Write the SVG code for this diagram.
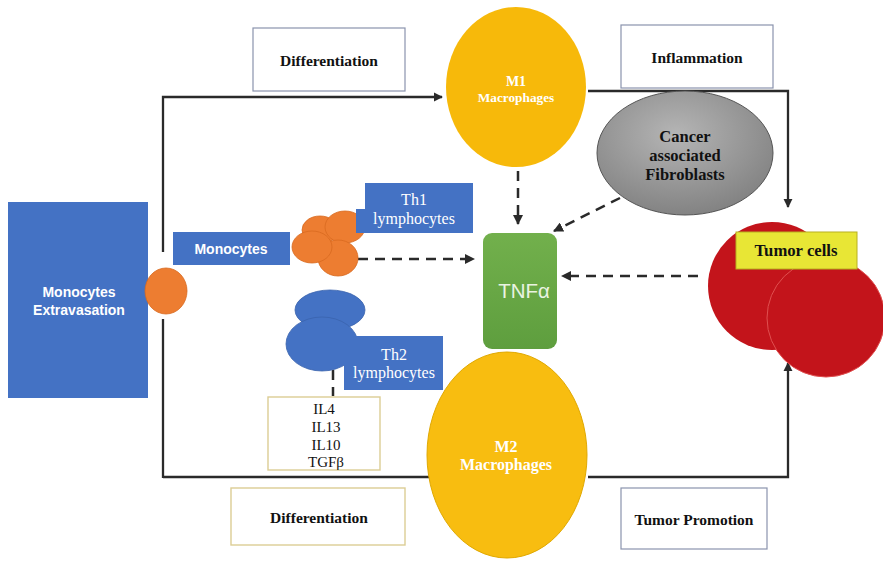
<svg xmlns="http://www.w3.org/2000/svg" width="883" height="562" viewBox="0 0 883 562">
<defs>
<style>
.lbl{font-family:"Liberation Serif",serif;font-weight:bold;font-size:15.5px;fill:#111;text-anchor:middle}
.wserif{font-family:"Liberation Serif",serif;font-size:16px;fill:#fff;text-anchor:middle}
.dserif{font-family:"Liberation Serif",serif;font-size:15px;fill:#111;text-anchor:middle}
.wsans{font-family:"Liberation Sans",sans-serif;font-weight:bold;font-size:14px;fill:#fff;text-anchor:middle}
.boxg{fill:#fff;stroke:#8a93ad;stroke-width:1.2}
.boxt{fill:#fff;stroke:#dccd94;stroke-width:1.4}
.blue{fill:#4472c4}
.orange{fill:#ed7d31;stroke:#d86a20;stroke-width:0.8}
.solid{fill:none;stroke:#2a2a2a;stroke-width:2.3}
.dash{fill:none;stroke:#2a2a2a;stroke-width:2.5;stroke-dasharray:10 7}
</style>
<marker id="ah" viewBox="0 0 10 10" refX="9" refY="5" markerWidth="4" markerHeight="4" orient="auto"><path d="M0,0 L10,5 L0,10 z" fill="#2a2a2a"/></marker>
<radialGradient id="gray" cx="0.45" cy="0.35" r="0.7"><stop offset="0" stop-color="#b5b5b5"/><stop offset="1" stop-color="#7f7f7f"/></radialGradient>
<linearGradient id="green" x1="0" y1="0" x2="0" y2="1"><stop offset="0" stop-color="#72b04c"/><stop offset="1" stop-color="#5e9e3e"/></linearGradient>
</defs>
<rect width="883" height="562" fill="#fff"/>

<g id="connectors">
<polyline class="solid" points="163,252 163,97 442,97" marker-end="url(#ah)"/>
<line class="solid" x1="163" y1="319" x2="163" y2="478"/>
<line class="solid" x1="163" y1="477" x2="430" y2="477"/>
<polyline class="solid" points="588,91 788,91 788,207" marker-end="url(#ah)"/>
<polyline class="solid" points="588,477 788,477 788,363" marker-end="url(#ah)"/>
<line class="dash" x1="518" y1="171" x2="518" y2="224" marker-end="url(#ah)"/>
<line class="dash" x1="620" y1="198" x2="554" y2="231" marker-end="url(#ah)"/>
<line class="dash" x1="358" y1="259" x2="474" y2="259" marker-end="url(#ah)"/>
<line class="dash" x1="698" y1="276" x2="562" y2="276" marker-end="url(#ah)"/>
<line class="dash" x1="333" y1="370" x2="333" y2="396"/>
</g>

<g id="diff-top"><rect class="boxg" x="253" y="28" width="152" height="63"/><text class="lbl" x="329" y="66">Differentiation</text></g>
<g id="inflammation"><rect class="boxg" x="621" y="25" width="152" height="63"/><text class="lbl" x="697" y="63">Inflammation</text></g>
<g id="tumor-promotion"><rect class="boxg" x="621" y="488" width="146" height="61"/><text class="lbl" x="694" y="525">Tumor Promotion</text></g>
<g id="diff-bottom"><rect class="boxt" x="231" y="488" width="174" height="57"/><text class="lbl" x="319" y="523">Differentiation</text></g>

<g id="m1"><ellipse cx="516" cy="87" rx="70" ry="80" fill="#f7b90a"/><text class="wserif" style="font-weight:bold;font-size:14px" x="516" y="86">M1</text><text class="wserif" style="font-weight:bold;font-size:13.3px" x="516" y="102">Macrophages</text></g>

<g id="caf"><ellipse cx="685" cy="153" rx="88" ry="62" fill="url(#gray)" stroke="#555" stroke-width="1"/><text class="lbl" style="font-size:16.5px" x="685" y="142">Cancer</text><text class="lbl" style="font-size:16.5px" x="685" y="161">associated</text><text class="lbl" style="font-size:16.5px" x="685" y="180">Fibroblasts</text></g>

<g id="tnf"><rect x="483" y="233" width="74" height="116" rx="9" fill="url(#green)"/><text x="524" y="298" font-family="Liberation Sans,sans-serif" font-size="20.5" fill="#e9f3e2" text-anchor="middle">TNFα</text></g>

<g id="tumor"><circle cx="772" cy="286" r="64" fill="#c3141b"/><circle cx="826" cy="318" r="59" fill="#c3141b" stroke="#e05050" stroke-width="1"/><rect x="736" y="232" width="121" height="37" fill="#e8e635" stroke="#b8b020" stroke-width="1"/><text class="lbl" style="font-size:16.7px" x="796" y="256">Tumor cells</text></g>

<g id="mono-ext"><rect class="blue" x="8" y="202" width="140" height="196"/><text class="wsans" x="79" y="297">Monocytes</text><text class="wsans" x="79" y="315">Extravasation</text></g>

<g id="mono-cell"><ellipse class="orange" cx="166" cy="291" rx="21" ry="23"/></g>

<g id="monocytes"><rect class="blue" x="173" y="232" width="117" height="33"/><text class="wsans" x="231" y="254">Monocytes</text></g>

<g id="orange-cluster">
<ellipse class="orange" cx="320" cy="230" rx="18" ry="14"/>
<ellipse class="orange" cx="345" cy="227" rx="20" ry="16"/>
<ellipse class="orange" cx="338" cy="258" rx="20" ry="18"/>
<ellipse class="orange" cx="312" cy="247" rx="20" ry="16"/>
</g>

<g id="th1"><rect class="blue" x="365" y="183" width="108" height="50"/><rect class="blue" x="356" y="209" width="20" height="24"/><text class="wserif" x="414" y="205">Th1</text><text class="wserif" x="414" y="224">lymphocytes</text></g>

<g id="blue-cluster"><ellipse class="blue" cx="330" cy="310" rx="35" ry="20" stroke="#3a63ad" stroke-width="0.8"/><ellipse class="blue" cx="322" cy="344" rx="36" ry="27" stroke="#3a63ad" stroke-width="0.8"/></g>

<g id="th2"><rect class="blue" x="344" y="336" width="99" height="54"/><text class="wserif" x="394" y="360">Th2</text><text class="wserif" x="394" y="378">lymphocytes</text></g>

<g id="cytokines"><rect class="boxt" x="268" y="397" width="112" height="73"/>
<text class="dserif" x="324" y="414">IL4</text>
<text class="dserif" x="326" y="432">IL13</text>
<text class="dserif" x="326" y="450">IL10</text>
<text class="dserif" x="326" y="467">TGFβ</text></g>

<g id="m2"><ellipse cx="507" cy="455" rx="80" ry="103" fill="#f8bd10" stroke="#e0a800" stroke-width="1"/><text class="wserif" style="font-weight:bold" x="506" y="452">M2</text><text class="wserif" style="font-weight:bold" x="506" y="470">Macrophages</text></g>
</svg>
